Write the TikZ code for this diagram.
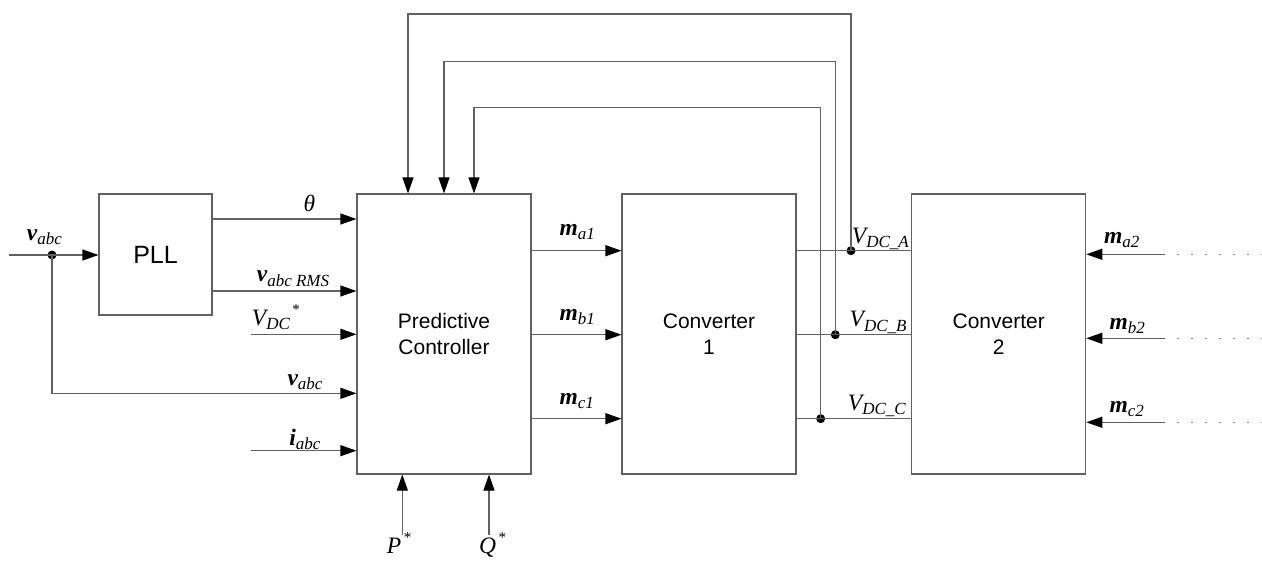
\documentclass[tikz,border=0pt]{standalone}
\usepackage{fontspec}
\setmainfont{Liberation Serif}
\newfontfamily\boxfont{Liberation Sans}
\usetikzlibrary{arrows.meta}
\newcommand{\bsub}[2]{{\fontsize{23.5}{24}\selectfont\bfseries\itshape #1}\raisebox{-4.5pt}{\fontsize{17}{18}\selectfont\itshape #2}}
\newcommand{\isub}[2]{{\fontsize{23.5}{24}\selectfont\itshape #1}\raisebox{-4.5pt}{\fontsize{17}{18}\selectfont\itshape #2}}
\newcommand{\sstar}{\raisebox{11pt}{\fontsize{15}{16}\selectfont\,*}}
\begin{document}
\begin{tikzpicture}[x=1pt,y=-1pt,
 ln/.style={draw=black!62, line width=1.1pt},
 arr/.style={ln, -{Triangle[length=16pt,width=11pt,color=black]}},
 blk/.style={draw=black!62, line width=1.1pt, minimum width=174pt, minimum height=280pt, inner sep=0pt, align=center, font=\boxfont\fontsize{21}{26}\selectfont},
 dotp/.style={circle, fill=black, minimum size=9pt, inner sep=0pt},
 lbl/.style={inner sep=0pt, font=\fontsize{23.5}{24}\selectfont},
 dots/.style={draw=black!50, line width=1.2pt, dash pattern=on 1.2pt off 12.8pt}
]
\useasboundingbox (0,0) rectangle (1262,568);

% blocks
\node[blk, minimum width=113pt, minimum height=121pt, font=\boxfont\fontsize{25}{30}\selectfont] (pll) at (155.5,254.5) {PLL};
\node[blk] (pc) at (444,334) {Predictive\\Controller};
\node[blk] (c1) at (709,334) {Converter\\1};
\node[blk] (c2) at (998.7,334) {Converter\\2};

% input and PLL
\coordinate (vin) at (9,255);
\node[dotp] (jn) at (52,255) {};
\draw[arr] (vin) -- (pll.west |- vin);
\draw[arr] (jn.center) |- (pc.west |- 0,393.3);
\draw[arr] (pll.east |- 0,219) -- (pc.west |- 0,219);
\draw[arr] (pll.east |- 0,291) -- (pc.west |- 0,291);
\coordinate (vdcin) at (251,334.3);
\draw[arr] (vdcin) -- (pc.west |- vdcin);
\coordinate (iin) at (251,450.7);
\draw[arr] (iin) -- (pc.west |- iin);

% P*, Q*
\coordinate (pin) at (402.3,535);
\coordinate (qin) at (489,535);
\draw[arr] (pin) -- (pc.south -| pin);
\draw[arr] (qin) -- (pc.south -| qin);

% modulation signals
\draw[arr] (pc.east |- 0,250.7) -- (c1.west |- 0,250.7);
\draw[arr] (pc.east |- 0,334.7) -- (c1.west |- 0,334.7);
\draw[arr] (pc.east |- 0,418.7) -- (c1.west |- 0,418.7);

% DC links
\node[dotp] (dA) at (851,250.7) {};
\node[dotp] (dB) at (835.3,334.7) {};
\node[dotp] (dC) at (820.7,418.7) {};
\draw[ln] (c1.east |- dA) -- (c2.west |- dA);
\draw[ln] (c1.east |- dB) -- (c2.west |- dB);
\draw[ln] (c1.east |- dC) -- (c2.west |- dC);

% feedback
\coordinate (tA) at (408,14);
\coordinate (tB) at (444,61.3);
\coordinate (tC) at (474,107.8);
\draw[arr] (dA.center) |- (tA) -- (pc.north -| tA);
\draw[arr] (dB.center) |- (tB) -- (pc.north -| tB);
\draw[arr] (dC.center) |- (tC) -- (pc.north -| tC);

% converter 2 inputs
\coordinate (ma2) at (1165,254.3);
\coordinate (mb2) at (1165,338.3);
\coordinate (mc2) at (1165,422.3);
\draw[arr] (ma2) -- (c2.east |- ma2);
\draw[arr] (mb2) -- (c2.east |- mb2);
\draw[arr] (mc2) -- (c2.east |- mc2);
\coordinate (ma2d) at (1177.3,254.3);
\coordinate (mb2d) at (1177.3,338.3);
\coordinate (mc2d) at (1177.3,422.3);
\draw[dots] (ma2d) -- ++(86,0);
\draw[dots] (mb2d) -- ++(86,0);
\draw[dots] (mc2d) -- ++(86,0);

% labels
\node[lbl, anchor=base west] (lvin) at (26.7,240) {\bsub{v}{abc}};
\node[lbl, anchor=base] (lth) at (309.5,211.7) {\itshape θ};
\node[lbl, anchor=base east] (lrms) at (329.3,281.7) {\bsub{v}{abc RMS}};
\node[lbl, anchor=base west] (lvdc) at (251.7,325) {\isub{V}{DC}\sstar};
\node[lbl, anchor=base east] (lv2) at (322.7,385) {\bsub{v}{abc}};
\node[lbl, anchor=base east] (li) at (320.7,445) {\bsub{i}{abc}};
\node[lbl, anchor=base west] (lma1) at (559.3,235) {\bsub{m}{a1}};
\node[lbl, anchor=base west] (lmb1) at (559.3,320) {\bsub{m}{b1}};
\node[lbl, anchor=base west] (lmc1) at (559.3,404) {\bsub{m}{c1}};
\node[lbl, anchor=base east] (lva) at (909,243.3) {\isub{V}{DC\_A}};
\node[lbl, anchor=base east] (lvb) at (906.7,326.7) {\isub{V}{DC\_B}};
\node[lbl, anchor=base east] (lvc) at (906,410) {\isub{V}{DC\_C}};
\node[lbl, anchor=base west] (lma2) at (1104,243.3) {\bsub{m}{a2}};
\node[lbl, anchor=base west] (lmb2) at (1109.3,329) {\bsub{m}{b2}};
\node[lbl, anchor=base west] (lmc2) at (1109.3,412.3) {\bsub{m}{c2}};
\node[lbl, anchor=base west] (lp) at (386.7,553.3) {{\itshape P}\sstar};
\node[lbl, anchor=base west] (lq) at (479,553.3) {{\itshape Q}\sstar};
\end{tikzpicture}
\end{document}
